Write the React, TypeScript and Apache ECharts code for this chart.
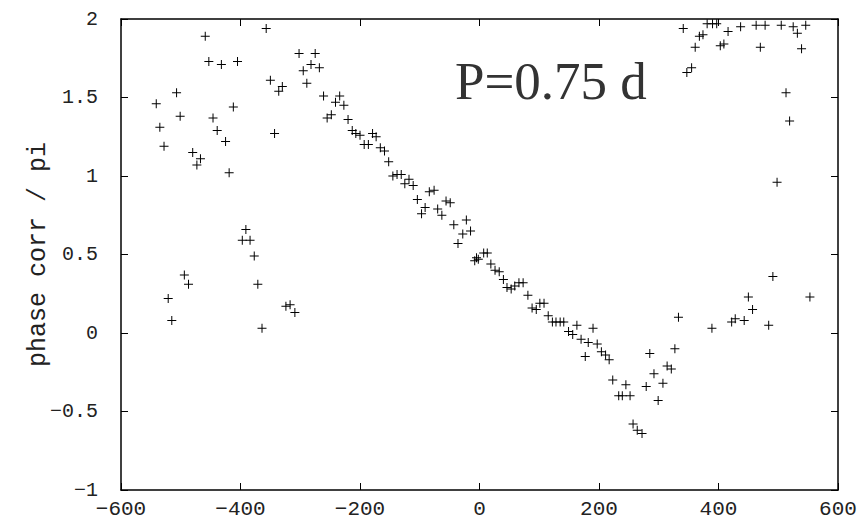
import React, { useEffect, useRef } from "react";
import * as echarts from "echarts";

const lagX: number[] = [
  -541, -535, -528, -507, -501, -480, -467, -473, -459, -453, -446, -439, -432, -425, -419, -412, -405,
  -391, -397, -384, -377, -357, -350, -343, -336, -330, -302, -295, -289, -282, -275, -268, -261, -255,
  -248, -241, -234, -227, -220, -213, -207, -200, -179, -173, -193, -186, -166, -159, -152, -145, -138,
  -131, -118, -125, -111, -84, -76, -104, -56, -49, -91, -97, -70, -63, -43, -22, -28, -15, -36, 7, 13,
  -5, -8, -2, 19, 26, 33, 40, 46, 53, 59, 66, 73, 81, 88, 95, 101, 108, 115, 122, 128, 135, 141, 149,
  156, 163, 170, 182, 177, 190, 197, 204, 211, 217, 223, 245, 233, 239, 252, 257, 264, 272, 279, 285,
  292, 299, 307, 314, 321, 327, 333, 389, 422, 428, 443, 450, 457, 484, 491, 553, 341, 361, 368, 374,
  347, 355, 381, 390, 397, 403, 409, 416, 437, 463, 478, 470, 505, 525, 532, 546, 539, 513, 519, 498,
  -494, -487, -521, -515, -371, -364, -324, -317, -309,
];

const phaseCorr: number[] = [
  1.46, 1.31, 1.19, 1.53, 1.38, 1.15, 1.11, 1.07, 1.89, 1.73, 1.37, 1.29, 1.71, 1.22, 1.02, 1.44, 1.73,
  0.66, 0.59, 0.59, 0.49, 1.94, 1.61, 1.27, 1.54, 1.57, 1.78, 1.67, 1.59, 1.71, 1.78, 1.69, 1.51, 1.37,
  1.39, 1.47, 1.51, 1.45, 1.36, 1.29, 1.27, 1.26, 1.27, 1.25, 1.2, 1.2, 1.18, 1.16, 1.09, 1.0, 1.01,
  1.01, 0.98, 0.95, 0.94, 0.9, 0.91, 0.85, 0.84, 0.83, 0.8, 0.76, 0.79, 0.75, 0.69, 0.72, 0.63, 0.65,
  0.57, 0.51, 0.51, 0.48, 0.46, 0.47, 0.44, 0.4, 0.39, 0.34, 0.29, 0.28, 0.3, 0.32, 0.32, 0.24, 0.16,
  0.15, 0.19, 0.19, 0.11, 0.07, 0.07, 0.07, 0.07, 0.01, -0.01, 0.05, -0.04, -0.06, -0.15, 0.03, -0.07,
  -0.12, -0.14, -0.17, -0.3, -0.33, -0.4, -0.4, -0.4, -0.58, -0.62, -0.64, -0.34, -0.13, -0.26, -0.43,
  -0.32, -0.21, -0.23, -0.1, 0.1, 0.03, 0.07, 0.09, 0.08, 0.23, 0.15, 0.05, 0.36, 0.23, 1.94, 1.82,
  1.89, 1.9, 1.66, 1.69, 1.97, 1.97, 1.97, 1.83, 1.84, 1.92, 1.95, 1.96, 1.96, 1.82, 1.96, 1.95, 1.91,
  1.96, 1.81, 1.53, 1.35, 0.96,
  0.37, 0.31, 0.22, 0.08, 0.31, 0.03, 0.17, 0.18, 0.13,
];

const xTicks = { min: -600, max: 600, interval: 200 };
const yTicks = { min: -1, max: 2, interval: 0.5 };
const yName = "phase corr / pi";
const periodLabel = "P=0.75 d";

const PLUS = "path://M4,0h1v4h4v1h-4v4h-1v-4h-4v-1h4z";

export default function App() {
  const ref = useRef<HTMLDivElement>(null);
  useEffect(() => {
    if (!ref.current) return;
    const chart = echarts.init(ref.current, undefined, { renderer: "svg" });
    const fmt = (v: number) => String(v).replace("-", "\u2212");
    const axisLine = { show: true, onZero: false, lineStyle: { color: "#000", width: 1.5 } };
    const tick = { show: true, inside: true, length: 7, lineStyle: { color: "#000", width: 1 } };
    const mono = "'Liberation Mono', 'DejaVu Sans Mono', monospace";
    const data = lagX.map((x, i) => [x, phaseCorr[i]]);
    chart.setOption({
      animation: false,
      backgroundColor: "#fff",
      grid: { left: 121, right: 23, top: 19, bottom: 38, containLabel: false },
      xAxis: [
        {
          type: "value",
          ...xTicks,
          position: "bottom",
          axisLine,
          axisTick: tick,
          splitLine: { show: false },
          axisLabel: { formatter: fmt, fontFamily: mono, fontSize: 21, color: "#222", margin: 9 },
        },
        {
          type: "value",
          ...xTicks,
          position: "top",
          axisLine,
          axisTick: tick,
          splitLine: { show: false },
          axisLabel: { show: false },
        },
      ],
      yAxis: [
        {
          type: "value",
          ...yTicks,
          position: "left",
          axisLine,
          axisTick: tick,
          splitLine: { show: false },
          axisLabel: { formatter: fmt, fontFamily: mono, fontSize: 20, color: "#222", margin: 23 },
          name: yName,
          nameLocation: "middle",
          nameGap: 70,
          nameMoveOverlap: false,
          nameTextStyle: { fontFamily: mono, fontSize: 25, color: "#222" },
        },
        {
          type: "value",
          ...yTicks,
          position: "right",
          axisLine,
          axisTick: tick,
          splitLine: { show: false },
          axisLabel: { show: false },
        },
      ],
      graphic: [
        {
          type: "text",
          x: 455,
          y: 81,
          style: {
            text: periodLabel,
            font: "53px 'Liberation Serif', 'Times New Roman', serif",
            fill: "#333",
            align: "left",
            verticalAlign: "middle",
          },
        },
      ],
      series: [
        {
          type: "scatter",
          data,
          symbol: PLUS,
          symbolSize: 9,
          itemStyle: { color: "#000", opacity: 1 },
          emphasis: { disabled: true },
        },
      ],
    });
    return () => chart.dispose();
  }, []);
  return (
    <div
      ref={ref}
      style={{ position: "fixed", left: 0, top: 0, width: 861, height: 528 }}
    />
  );
}
